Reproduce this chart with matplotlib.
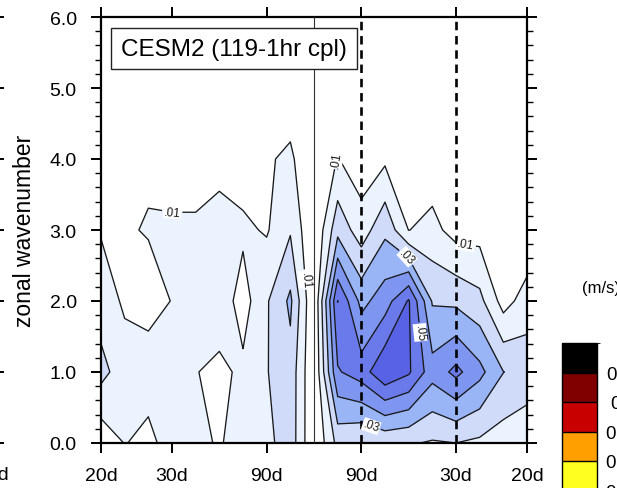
import numpy as np
import matplotlib
matplotlib.use('Agg')
import matplotlib.pyplot as plt
from matplotlib.colors import ListedColormap, BoundaryNorm
from matplotlib.patches import Rectangle
from matplotlib.lines import Line2D
import matplotlib.cm as cm

plt.rcParams['font.family'] = ['Liberation Sans', 'DejaVu Sans']

# ---------------- data ----------------
freq_index = np.arange(-9, 10)          # cycles per 180 days
freqs = freq_index / 180.0               # cpd
wavenumbers = [0, 1, 2, 3, 4, 5, 6]

# power (m/s) on the grid, one list per zonal wavenumber, columns = freqs
pw0 = [0.0030, 0.0103, 0.0080, 0.0133, 0.0126, 0.0090, 0.0149, 0.0169, 0.0260, 0.0000,
       0.0230, 0.0200, 0.0220, 0.0210, 0.0190, 0.0200, 0.0180, 0.0150, 0.0130]
pw1 = [0.0234, 0.0143, 0.0134, 0.0150, 0.0104, 0.0075, 0.0121, 0.0195, 0.0263, 0.0000,
       0.0490, 0.0550, 0.0686, 0.0615, 0.0440, 0.0527, 0.0430, 0.0302, 0.0260]
pw2 = [0.0149, 0.0086, 0.0075, 0.0102, 0.0150, 0.0161, 0.0056, 0.0189, 0.0320, 0.0000,
       0.0602, 0.0369, 0.0453, 0.0610, 0.0290, 0.0278, 0.0230, 0.0059, 0.0147]
pw3 = [0.0093, 0.0094, 0.0104, 0.0120, 0.0120, 0.0130, 0.0119, 0.0090, 0.0190, 0.0000,
       0.0267, 0.0147, 0.0277, 0.0098, 0.0130, 0.0061, 0.0060, 0.0040, 0.0010]
pw4 = [0.0050, 0.0060, 0.0091, 0.0040, 0.0040, 0.0075, 0.0050, 0.0088, 0.0120, 0.0000,
       0.0105, 0.0040, 0.0081, 0.0040, 0.0040, 0.0030, 0.0030, 0.0020, 0.0010]
pw5 = [0.0040, 0.0040, 0.0050, 0.0030, 0.0030, 0.0040, 0.0030, 0.0050, 0.0037, 0.0000,
       0.0060, 0.0020, 0.0040, 0.0020, 0.0020, 0.0020, 0.0020, 0.0010, 0.0010]
pw6 = [0.0030, 0.0030, 0.0030, 0.0020, 0.0020, 0.0030, 0.0020, 0.0030, 0.0020, 0.0000,
       0.0040, 0.0010, 0.0020, 0.0010, 0.0010, 0.0010, 0.0010, 0.0010, 0.0010]

contour_levels = [0.01, 0.02, 0.03, 0.04, 0.05, 0.06, 0.07]
labelled_levels = [0.01, 0.03, 0.05]
fill_colors = ['#ffffff', '#eaf3fe', '#d0dbf9', '#99b5f6', '#7f96f0', '#6a7aea', '#5862e4', '#ffff20']

xtick_vals = [-1/20, -1/30, -1/90, 1/90, 1/30, 1/20]
xtick_labels = ['20d', '30d', '90d', '90d', '30d', '20d']
ytick_vals = [0, 1, 2, 3, 4, 5, 6]
ytick_labels = ['0.0', '1.0', '2.0', '3.0', '4.0', '5.0', '6.0']
dashed_periods = [1/90, 1/30]

cbar_bounds = [0.06, 0.07, 0.08, 0.09, 0.10, 0.11, 0.12]
cbar_colors = ['#d8f050', '#ffff20', '#ffa000', '#c80000', '#800000', '#000000']
cbar_ticks = [0.07, 0.08, 0.09, 0.10, 0.11]
cbar_ticklabels = ['0.07', '0.08', '0.09', '0.1', '0.11']

title = 'CESM2 (119-1hr cpl)'

# ---------------- figure ----------------
W, H = 617, 489
fig = plt.figure(figsize=(W/100, H/100), dpi=100)

def fx(px):
    return px / W

def fy(py):
    return 1 - py / H

ax_l, ax_r, ax_t, ax_b = 101, 527, 18, 444
ax = fig.add_axes([fx(ax_l), fy(ax_b), fx(ax_r - ax_l), (ax_b - ax_t) / H])

Z = np.array([pw0, pw1, pw2, pw3, pw4, pw5, pw6])
fill_levels = [-1.0] + contour_levels + [1.0]
ax.contourf(freqs, wavenumbers, Z, levels=fill_levels, colors=fill_colors)

line_kw = dict(colors='#1a1a1a', linewidths=0.95)
plain_levels = [lv for lv in contour_levels[:-1] if lv not in labelled_levels]
ax.contour(freqs, wavenumbers, Z, levels=plain_levels, **line_kw)

label_spots = {
    0.01: [(-0.0333, 3.27), (0.0052, 4.0), (-0.0026, 2.3), (0.0356, 2.78)],
    0.03: [(0.0218, 2.62), (0.0136, 0.27)],
    0.05: [(0.0254, 1.56)],
}
for lv in labelled_levels:
    c = ax.contour(freqs, wavenumbers, Z, levels=[lv], **line_kw)
    lbls = c.clabel(fmt=lambda v: ('%.2f' % v)[1:], manual=label_spots[lv],
                    inline=True, inline_spacing=2, fontsize=8.5)
    for t in lbls:
        t.set_bbox(dict(facecolor='white', edgecolor='none', pad=0.4))

ax.axvline(0.0, color='#333333', lw=0.8, zorder=3)
for p in dashed_periods:
    ax.axvline(p, color='black', lw=1.9, linestyle=(0, (3.2, 2.2)), zorder=3)

ax.set_xlim(-0.05, 0.05)
ax.set_ylim(0, 6)
ax.set_xticks(xtick_vals)
ax.set_xticklabels(xtick_labels, fontsize=14)
ax.set_yticks(ytick_vals)
ax.set_yticklabels(ytick_labels, fontsize=14)
ax.set_yticks(np.arange(0, 6.01, 0.2), minor=True)
ax.tick_params(axis='both', which='major', direction='out', length=7.5, width=1.4,
               top=True, right=True)
ax.tick_params(axis='y', which='minor', direction='out', length=4, width=1.0,
               left=True, right=True)
ax.tick_params(axis='x', which='major', pad=10)
ax.tick_params(axis='y', which='major', pad=10)
for s in ax.spines.values():
    s.set_linewidth(1.6)

fig.text(fx(25), fy(231), 'zonal wavenumber', rotation=90, ha='center', va='center',
         fontsize=16.5)

# title box
fig.patches.append(Rectangle((fx(111), fy(70)), fx(357 - 111), (70 - 29) / H,
                             transform=fig.transFigure, facecolor='white',
                             edgecolor='#222222', lw=1.0, zorder=5))
fig.text(fx(234), fy(50), title, ha='center', va='center', fontsize=17.5, zorder=6)

# partial neighbouring colorbar on the right
cax = fig.add_axes([fx(562), fy(344 + 6 * 29.5), fx(35), 6 * 29.5 / H])
cmap = ListedColormap(cbar_colors)
norm = BoundaryNorm(cbar_bounds, cmap.N)
cb = fig.colorbar(cm.ScalarMappable(norm=norm, cmap=cmap), cax=cax, drawedges=True)
cb.set_ticks(cbar_ticks)
cb.set_ticklabels(cbar_ticklabels)
cb.ax.tick_params(length=0, pad=19, labelsize=13.5)
for t in cb.ax.get_yticklabels():
    t.set_horizontalalignment('center')
cb.outline.set_linewidth(1.0)
cb.dividers.set_linewidth(1.0)
fig.text(fx(582), fy(288), '(m/s)', ha='left', va='center', fontsize=12)

# partial neighbouring panel on the left
for yv in ytick_vals:
    ypx = ax_b - (ax_b - ax_t) * yv / 6
    fig.lines.append(Line2D([0, fx(3)], [fy(ypx), fy(ypx)], transform=fig.transFigure,
                            color='black', lw=1.4))
fig.text(fx(9), fy(476), '20d', ha='right', va='center', fontsize=14)

fig.savefig('out.png', dpi=100)
